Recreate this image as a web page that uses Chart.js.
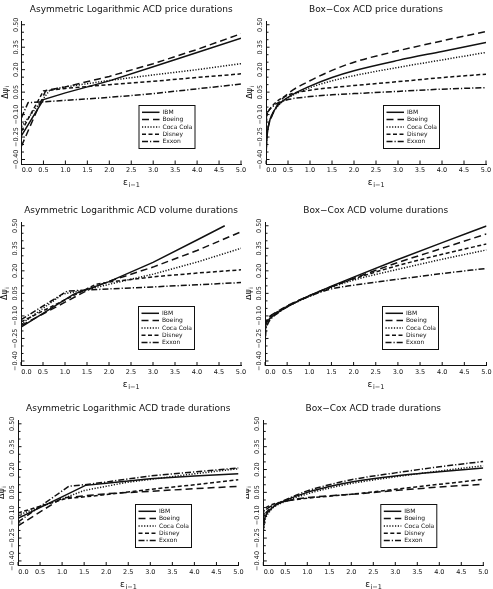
<!DOCTYPE html>
<html>
<head>
<meta charset="utf-8">
<script src="https://cdn.jsdelivr.net/npm/chart.js@4.4.1/dist/chart.umd.min.js"></script>
<style>
  html, body { margin: 0; padding: 0; background: #fff; }
  #wrap { position: relative; width: 493px; height: 589px; overflow: hidden; background: #fff; }
  #wrap canvas { position: absolute; }
</style>
</head>
<body>
<div id="wrap"></div>
<script>
// legend names, in plotting order
const seriesNames = ['IBM', 'Boeing', 'Coca Cola', 'Disney', 'Exxon'];

// tick labels shared by all six panels
const xTicks = [0, 0.5, 1, 1.5, 2, 2.5, 3, 3.5, 4, 4.5, 5];
const yTicks = [-0.40, -0.25, -0.10, 0.05, 0.20, 0.35, 0.50];

// Asymmetric Logarithmic ACD, price durations  [eps, dpsi]
const alPriceIbm    = [[0, -0.24], [0.5, 0.0], [1, 0.045], [2, 0.125], [3, 0.22], [4, 0.315], [5, 0.41]];
const alPriceBoeing = [[0, -0.31], [0.55, 0.06], [1, 0.085], [2, 0.155], [3, 0.24], [4, 0.335], [5, 0.44]];
const alPriceCoca   = [[0, -0.18], [0.65, 0.065], [1, 0.085], [2, 0.128], [3, 0.165], [4, 0.2], [5, 0.24]];
const alPriceDisney = [[0, -0.21], [0.5, 0.058], [1, 0.075], [2, 0.1], [3, 0.122], [4, 0.148], [5, 0.172]];
const alPriceExxon  = [[0, -0.12], [0.15, -0.02], [0.5, -0.015], [1, -0.005], [2, 0.015], [3, 0.04], [4, 0.072], [5, 0.104]];

// Box-Cox ACD, price durations
const bcPriceIbm    = [[0, -0.38], [0.02, -0.26], [0.06, -0.17], [0.12, -0.11], [0.25, -0.045], [0.5, 0.015], [1, 0.09], [1.5, 0.148], [2, 0.193], [3, 0.262], [4, 0.322], [5, 0.382]];
const bcPriceBoeing = [[0, -0.34], [0.02, -0.24], [0.06, -0.17], [0.12, -0.12], [0.25, -0.04], [0.5, 0.04], [1, 0.126], [1.5, 0.195], [2, 0.25], [3, 0.326], [4, 0.392], [5, 0.455]];
const bcPriceCoca   = [[0, -0.37], [0.02, -0.25], [0.06, -0.17], [0.12, -0.115], [0.25, -0.05], [0.5, 0.01], [1, 0.08], [1.5, 0.125], [2, 0.16], [3, 0.215], [4, 0.265], [5, 0.315]];
const bcPriceDisney = [[0, -0.2], [0.02, -0.11], [0.06, -0.075], [0.12, -0.05], [0.25, -0.012], [0.5, 0.03], [1, 0.063], [1.5, 0.08], [2, 0.094], [3, 0.12], [4, 0.147], [5, 0.17]];
const bcPriceExxon  = [[0, -0.16], [0.02, -0.1], [0.06, -0.075], [0.12, -0.055], [0.25, -0.025], [0.5, 0.0], [1, 0.02], [1.5, 0.032], [2, 0.04], [3, 0.055], [4, 0.07], [5, 0.08]];

// Asymmetric Logarithmic ACD, volume durations
const alVolIbm    = [[0, -0.175], [1.2, 0.045], [2, 0.128], [3, 0.256], [4, 0.405], [4.63, 0.5]];
const alVolBoeing = [[0, -0.165], [1.6, 0.085], [2, 0.13], [3, 0.225], [4, 0.335], [5, 0.46]];
const alVolCoca   = [[0, -0.155], [0.95, 0.045], [1.5, 0.075], [2, 0.11], [3, 0.178], [4, 0.258], [5, 0.35]];
const alVolDisney = [[0, -0.14], [1.7, 0.11], [2, 0.125], [3, 0.16], [4, 0.185], [5, 0.207]];
const alVolExxon  = [[0, -0.125], [1.05, 0.065], [1.5, 0.072], [2, 0.08], [3, 0.093], [4, 0.107], [5, 0.122]];

// Box-Cox ACD, volume durations
const bcVolIbm    = [[0, -0.2], [0.02, -0.16], [0.06, -0.135], [0.12, -0.115], [0.25, -0.085], [0.5, -0.04], [1, 0.035], [1.5, 0.097], [2, 0.158], [3, 0.275], [4, 0.388], [5, 0.498]];
const bcVolBoeing = [[0, -0.17], [0.02, -0.14], [0.06, -0.12], [0.12, -0.1], [0.25, -0.075], [0.5, -0.033], [1, 0.035], [1.5, 0.095], [2, 0.15], [3, 0.255], [4, 0.35], [5, 0.446]];
const bcVolCoca   = [[0, -0.23], [0.02, -0.17], [0.06, -0.14], [0.12, -0.115], [0.25, -0.085], [0.5, -0.04], [1, 0.03], [1.5, 0.09], [2, 0.138], [3, 0.21], [4, 0.277], [5, 0.339]];
const bcVolDisney = [[0, -0.19], [0.02, -0.15], [0.06, -0.125], [0.12, -0.105], [0.25, -0.078], [0.5, -0.035], [1, 0.033], [1.5, 0.093], [2, 0.146], [3, 0.235], [4, 0.31], [5, 0.379]];
const bcVolExxon  = [[0, -0.31], [0.02, -0.2], [0.06, -0.155], [0.12, -0.125], [0.25, -0.09], [0.5, -0.04], [1, 0.03], [1.5, 0.08], [2, 0.104], [3, 0.144], [4, 0.182], [5, 0.216]];

// Asymmetric Logarithmic ACD, trade durations
const alTradeIbm    = [[0, -0.12], [1.53, 0.096], [2, 0.11], [3, 0.14], [4, 0.158], [5, 0.172]];
const alTradeBoeing = [[0, -0.17], [1.0, 0.013], [2, 0.041], [3, 0.057], [4, 0.074], [5, 0.09]];
const alTradeCoca   = [[0, -0.1], [1.5, 0.062], [2, 0.09], [2.5, 0.117], [3, 0.135], [4, 0.172], [5, 0.205]];
const alTradeDisney = [[0, -0.085], [1.07, 0.008], [2, 0.035], [3, 0.07], [4, 0.1], [5, 0.133]];
const alTradeExxon  = [[0, -0.145], [1.15, 0.09], [1.5, 0.1], [2, 0.118], [3, 0.158], [4, 0.184], [5, 0.21]];

// Box-Cox ACD, trade durations
const bcTradeIbm    = [[0, -0.2], [0.02, -0.14], [0.06, -0.1], [0.12, -0.075], [0.25, -0.04], [0.5, -0.003], [1, 0.05], [1.5, 0.088], [2, 0.118], [3, 0.158], [4, 0.185], [5, 0.21]];
const bcTradeBoeing = [[0, -0.13], [0.02, -0.085], [0.06, -0.065], [0.12, -0.05], [0.25, -0.03], [0.5, -0.008], [1, 0.015], [1.5, 0.027], [2, 0.037], [3, 0.062], [4, 0.085], [5, 0.103]];
const bcTradeCoca   = [[0, -0.22], [0.02, -0.16], [0.06, -0.115], [0.12, -0.085], [0.25, -0.045], [0.5, -0.01], [1, 0.04], [1.5, 0.078], [2, 0.108], [3, 0.152], [4, 0.19], [5, 0.225]];
const bcTradeDisney = [[0, -0.09], [0.02, -0.065], [0.06, -0.05], [0.12, -0.04], [0.25, -0.025], [0.5, -0.008], [1, 0.012], [1.5, 0.025], [2, 0.038], [3, 0.07], [4, 0.103], [5, 0.135]];
const bcTradeExxon  = [[0, -0.16], [0.02, -0.115], [0.06, -0.085], [0.12, -0.065], [0.25, -0.035], [0.5, 0.0], [1, 0.06], [1.5, 0.1], [2, 0.133], [3, 0.178], [4, 0.218], [5, 0.253]];

// line style per firm: solid, long dash, dotted, short dash, dash-dot
const dashes = [[], [7, 4], [1.2, 1.6], [4, 2.5], [6, 2, 1.2, 2]];
const FONT = '"DejaVu Sans", sans-serif';
const INK = '#111';

const panels = [
  { title: 'Asymmetric Logarithmic ACD price durations', series: [alPriceIbm, alPriceBoeing, alPriceCoca, alPriceDisney, alPriceExxon], smooth: false,
    box: { x: 0, y: 0, w: 246, h: 200 }, area: { left: 21.5, right: 241, top: 21, bottom: 164 } },
  { title: 'Box\u2212Cox ACD price durations', series: [bcPriceIbm, bcPriceBoeing, bcPriceCoca, bcPriceDisney, bcPriceExxon], smooth: true,
    box: { x: 246, y: 0, w: 247, h: 200 }, area: { left: 266, right: 486, top: 21, bottom: 164 } },
  { title: 'Asymmetric Logarithmic ACD volume durations', series: [alVolIbm, alVolBoeing, alVolCoca, alVolDisney, alVolExxon], smooth: false,
    box: { x: 0, y: 200, w: 246, h: 200 }, area: { left: 21, right: 241, top: 222, bottom: 365.5 } },
  { title: 'Box\u2212Cox ACD volume durations', series: [bcVolIbm, bcVolBoeing, bcVolCoca, bcVolDisney, bcVolExxon], smooth: true,
    box: { x: 246, y: 200, w: 247, h: 200 }, area: { left: 265, right: 486.5, top: 222, bottom: 365.5 } },
  { title: 'Asymmetric Logarithmic ACD trade durations', series: [alTradeIbm, alTradeBoeing, alTradeCoca, alTradeDisney, alTradeExxon], smooth: false,
    box: { x: 0, y: 400, w: 246, h: 189 }, area: { left: 18, right: 238.5, top: 420, bottom: 565.5 } },
  { title: 'Box\u2212Cox ACD trade durations', series: [bcTradeIbm, bcTradeBoeing, bcTradeCoca, bcTradeDisney, bcTradeExxon], smooth: true,
    box: { x: 246, y: 400, w: 247, h: 189 }, area: { left: 263.3, right: 483.3, top: 420, bottom: 565.5 } }
];

function fmt(v, d) {
  const s = Math.abs(v).toFixed(d);
  return v < -1e-9 ? '\u2212' + s : s;
}

// titles, inward ticks, rotated y labels, axis titles and the boxed legend
function makeDecor(panel) {
  return {
    id: 'acdDecor',
    afterDraw(chart) {
      const { ctx, chartArea: a } = chart;
      const x = chart.scales.x, y = chart.scales.y;
      ctx.save();
      ctx.fillStyle = INK;
      ctx.strokeStyle = INK;
      ctx.lineWidth = 1;

      // title
      ctx.font = '9px ' + FONT;
      ctx.textAlign = 'center';
      ctx.textBaseline = 'middle';
      ctx.fillText(panel.title, (a.left + a.right) / 2, a.top - 11);

      // x ticks (inward) and labels
      ctx.font = '6.5px ' + FONT;
      xTicks.forEach(v => {
        const px = x.getPixelForValue(v);
        ctx.beginPath();
        ctx.moveTo(px, a.bottom);
        ctx.lineTo(px, a.bottom - 3.5);
        ctx.stroke();
        ctx.fillText(fmt(v, 1), px + (v === 0 ? 5.5 : 0), a.bottom + 6.5);
      });

      // y minor ticks every 0.05
      for (let k = 0; k <= 18; k++) {
        const py = y.getPixelForValue(-0.40 + k * 0.05);
        ctx.beginPath();
        ctx.moveTo(a.left, py);
        ctx.lineTo(a.left + (k % 3 === 0 ? 3.5 : 2.5), py);
        ctx.stroke();
      }
      // y labels, rotated
      yTicks.forEach(v => {
        ctx.save();
        ctx.translate(a.left - 5.5, y.getPixelForValue(v));
        ctx.rotate(-Math.PI / 2);
        ctx.fillText(fmt(v, 2), 0, 0);
        ctx.restore();
      });

      // x title: epsilon_{i-1}
      const xc = (a.left + a.right) / 2, yb = a.bottom + 19;
      ctx.font = '9px ' + FONT;
      const wE = ctx.measureText('\u03b5').width;
      ctx.font = '6.5px ' + FONT;
      const wS = ctx.measureText('i\u22121').width;
      const x0 = xc - (wE + wS) / 2;
      ctx.textAlign = 'left';
      ctx.font = '9px ' + FONT;
      ctx.fillText('\u03b5', x0, yb);
      ctx.font = '6.5px ' + FONT;
      ctx.fillText('i\u22121', x0 + wE + 0.5, yb + 2.5);

      // y title: Delta psi_i, rotated
      ctx.save();
      ctx.translate(a.left - 16, (a.top + a.bottom) / 2);
      ctx.rotate(-Math.PI / 2);
      ctx.font = '8px ' + FONT;
      const wD = ctx.measureText('\u0394\u03c8').width;
      ctx.font = '5.5px ' + FONT;
      const wI = ctx.measureText('i').width;
      ctx.font = '8px ' + FONT;
      ctx.fillText('\u0394\u03c8', -(wD + wI) / 2, 0);
      ctx.font = '5.5px ' + FONT;
      ctx.fillText('i', -(wD + wI) / 2 + wD + 0.3, 2.2);
      ctx.restore();

      // legend box
      const lx = a.left + 117, ly = a.top + 84, lw = 56, lh = 43;
      ctx.fillStyle = '#fff';
      ctx.fillRect(lx, ly, lw, lh);
      ctx.strokeRect(lx + 0.5, ly + 0.5, lw, lh);
      ctx.fillStyle = INK;
      ctx.font = '6px ' + FONT;
      ctx.textAlign = 'left';
      chart.data.datasets.forEach((ds, i) => {
        const ry = ly + 7.3 + i * 7.3;
        ctx.save();
        ctx.lineWidth = ds.borderWidth;
        ctx.setLineDash(ds.borderDash);
        ctx.beginPath();
        ctx.moveTo(lx + 3.5, ry);
        ctx.lineTo(lx + 21, ry);
        ctx.stroke();
        ctx.restore();
        ctx.fillText(ds.label, lx + 24, ry + 0.3);
      });
      ctx.restore();
    }
  };
}

const wrap = document.getElementById('wrap');
panels.forEach(panel => {
  const { box, area } = panel;
  const canvas = document.createElement('canvas');
  canvas.width = box.w;
  canvas.height = box.h;
  canvas.style.left = box.x + 'px';
  canvas.style.top = box.y + 'px';
  wrap.appendChild(canvas);

  new Chart(canvas.getContext('2d'), {
    type: 'scatter',
    data: {
      datasets: panel.series.map((pts, i) => ({
        label: seriesNames[i],
        data: pts.map(p => ({ x: p[0], y: p[1] })),
        showLine: true,
        borderColor: INK,
        borderWidth: 1.5,
        borderDash: dashes[i],
        pointRadius: 0,
        fill: false,
        cubicInterpolationMode: panel.smooth ? 'monotone' : 'default',
        tension: 0
      }))
    },
    options: {
      responsive: false,
      animation: false,
      layout: {
        padding: {
          left: area.left - box.x,
          right: box.x + box.w - area.right,
          top: area.top - box.y,
          bottom: box.y + box.h - area.bottom
        }
      },
      scales: {
        x: {
          type: 'linear', min: 0, max: 5,
          ticks: { display: false },
          grid: { display: true, drawOnChartArea: false, drawTicks: false },
          border: { display: true, color: INK, width: 1 },
          afterFit: s => { s.height = 0; }
        },
        y: {
          type: 'linear', min: -0.43, max: 0.525,
          ticks: { display: false },
          grid: { display: true, drawOnChartArea: false, drawTicks: false },
          border: { display: true, color: INK, width: 1 },
          afterFit: s => { s.width = 0; }
        }
      },
      plugins: {
        legend: { display: false },
        tooltip: { enabled: false }
      }
    },
    plugins: [makeDecor(panel)]
  });
});
</script>
</body>
</html>
